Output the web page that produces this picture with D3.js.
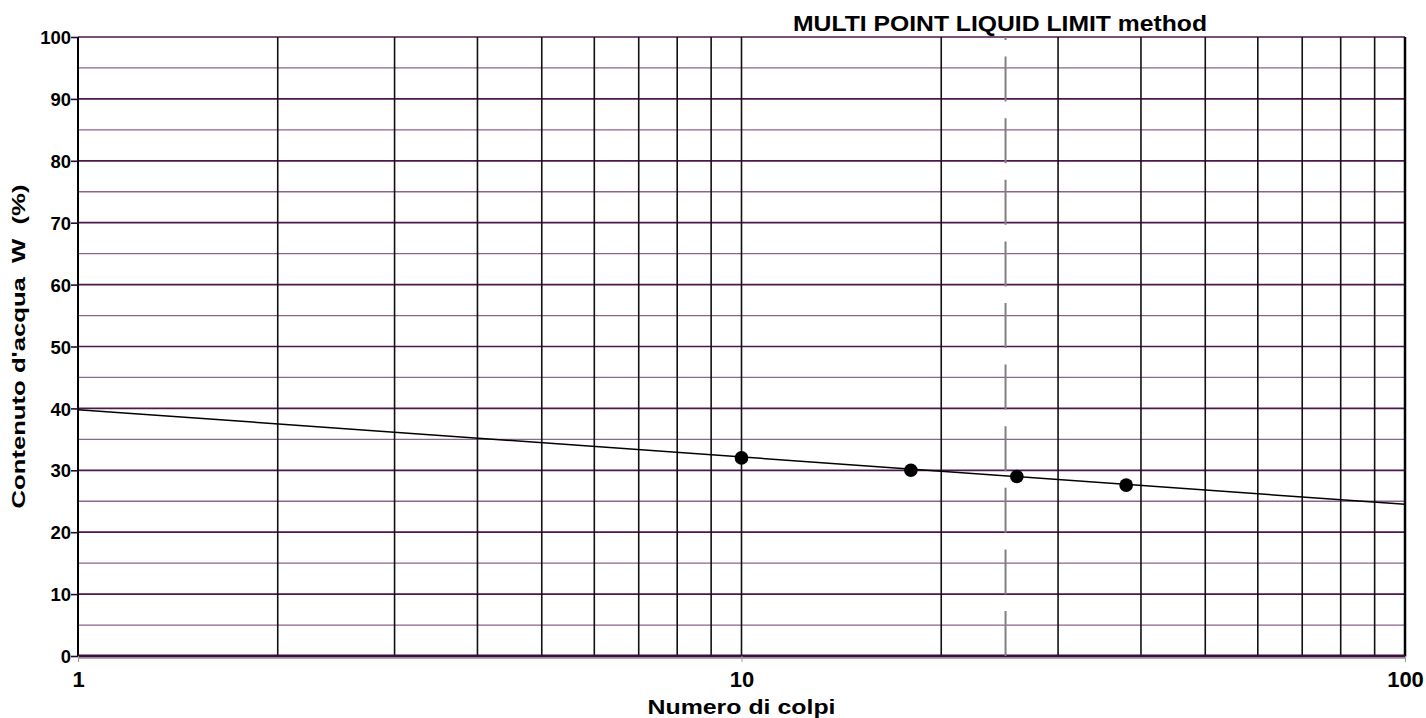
<!DOCTYPE html>
<html>
<head>
<meta charset="utf-8">
<script src="https://cdn.jsdelivr.net/npm/d3@7"></script>
<style>
body { margin: 0; background: #fff; }
svg { display: block; font-family: 'Liberation Sans', Arial, sans-serif; font-weight: bold; }
</style>
</head>
<body>
<svg width="1426" height="718"></svg>
<script>
/* globals d3 */

// misure (numero di colpi, contenuto d'acqua %)
const blows = [10, 18, 26, 38];
const water = [32, 30, 29, 27.6];

// retta di regressione letta agli estremi
const fitBlows = [1, 100];
const fitWater = [39.8, 24.5];

const limitBlows = 25;

const xTicks = [1, 10, 100];
const xGrid = [2, 3, 4, 5, 6, 7, 8, 9, 10, 20, 30, 40, 50, 60, 70, 80, 90];
const yTicks = [0, 10, 20, 30, 40, 50, 60, 70, 80, 90, 100];
const yMinor = [5, 15, 25, 35, 45, 55, 65, 75, 85, 95];

const title = 'MULTI POINT LIQUID LIMIT method';
const xTitle = 'Numero di colpi';
const yTitle = 'Contenuto d\'acqua\u00a0\u00a0W\u00a0\u00a0(%)';

const svg = d3.select('svg');
const pl = 78;
const pr = 1405;
const pt = 37;
const pb = 656;

const x = d3.scaleLog().domain([1, 100]).range([pl, pr]);
const y = d3.scaleLinear().domain([0, 100]).range([pb, pt]);

// griglia orizzontale
svg.append('g')
.selectAll('line')
.data(yMinor)
.enter().append('line')
.attr('x1', pl)
.attr('x2', pr)
.attr('y1', d => y(d))
.attr('y2', d => y(d))
.attr('stroke', '#8c648c')
.attr('stroke-width', 1.3);

svg.append('g')
.selectAll('line')
.data(yTicks.filter(d => d > 0))
.enter().append('line')
.attr('x1', pl)
.attr('x2', pr)
.attr('y1', d => y(d))
.attr('y2', d => y(d))
.attr('stroke', '#4e164e')
.attr('stroke-width', 1.7);

// griglia verticale
svg.append('g')
.selectAll('line')
.data(xGrid)
.enter().append('line')
.attr('x1', d => x(d))
.attr('x2', d => x(d))
.attr('y1', pt)
.attr('y2', pb)
.attr('stroke', '#111')
.attr('stroke-width', 1.6);

// bordi
svg.append('line')
.attr('x1', pl).attr('x2', pl)
.attr('y1', pt).attr('y2', pb + 1)
.attr('stroke', '#000')
.attr('stroke-width', 2);

svg.append('line')
.attr('x1', pr).attr('x2', pr)
.attr('y1', pt).attr('y2', pb + 1)
.attr('stroke', '#000')
.attr('stroke-width', 2.5);

svg.append('line')
.attr('x1', pl).attr('x2', pr)
.attr('y1', pb + 2.5).attr('y2', pb + 2.5)
.attr('stroke', '#aaa')
.attr('stroke-width', 1);

svg.append('line')
.attr('x1', pl).attr('x2', pr)
.attr('y1', pb).attr('y2', pb)
.attr('stroke', '#3e0e3e')
.attr('stroke-width', 3);

// limite liquido a 25 colpi
svg.append('line')
.attr('x1', x(limitBlows)).attr('x2', x(limitBlows))
.attr('y1', pb).attr('y2', pt)
.attr('stroke', '#808080')
.attr('stroke-width', 2)
.attr('stroke-dasharray', '45 16.6');

// assi
const yAxis = svg.append('g')
.attr('transform', 'translate(' + pl + ',0)')
.call(d3.axisLeft(y).tickValues(yTicks).tickSize(7).tickPadding(0));

yAxis.attr('font-family', null);
yAxis.select('.domain').remove();
yAxis.selectAll('line').attr('stroke', '#2a0a2a').attr('stroke-width', 1.6);
yAxis.selectAll('text')
.attr('fill', '#000')
.attr('font-size', 18.5)
.attr('dy', '0.36em');

const xAxis = svg.append('g')
.attr('transform', 'translate(0,' + pb + ')')
.call(d3.axisBottom(x).tickValues(xTicks).tickFormat(d3.format('d')).tickSize(6).tickPadding(9));

xAxis.attr('font-family', null);
xAxis.select('.domain').remove();
xAxis.selectAll('line').attr('stroke', '#999').attr('stroke-width', 1);
xAxis.selectAll('text')
.attr('fill', '#000')
.attr('font-size', 22);

// retta e punti
const line = d3.line()
.x(d => x(d[0]))
.y(d => y(d[1]));

svg.append('path')
.datum(d3.zip(fitBlows, fitWater))
.attr('d', line)
.attr('fill', 'none')
.attr('stroke', '#000')
.attr('stroke-width', 1.5);

svg.append('g')
.selectAll('circle')
.data(d3.zip(blows, water))
.enter().append('circle')
.attr('cx', d => x(d[0]))
.attr('cy', d => y(d[1]))
.attr('r', 6.8)
.attr('fill', '#000');

// titoli
svg.append('text')
.attr('x', 1000)
.attr('y', 31)
.attr('text-anchor', 'middle')
.attr('font-size', 22.5)
.attr('textLength', 414)
.attr('lengthAdjust', 'spacingAndGlyphs')
.text(title);

svg.append('text')
.attr('x', (pl + pr) / 2)
.attr('y', 714)
.attr('text-anchor', 'middle')
.attr('font-size', 21)
.attr('textLength', 188)
.attr('lengthAdjust', 'spacingAndGlyphs')
.text(xTitle);

svg.append('text')
.attr('transform', 'translate(25,' + (pt + pb) / 2 + ') rotate(-90)')
.attr('text-anchor', 'middle')
.attr('font-size', 18.6)
.attr('textLength', 324)
.attr('lengthAdjust', 'spacingAndGlyphs')
.text(yTitle);
</script>
</body>
</html>
